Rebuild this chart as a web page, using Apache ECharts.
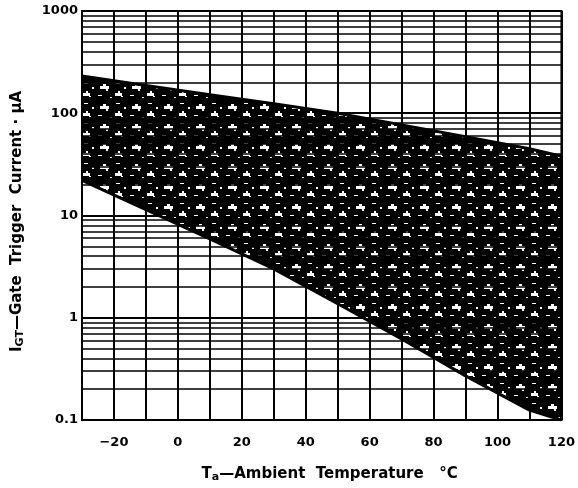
<!DOCTYPE html>
<html><head><meta charset="utf-8">
<script src="https://cdn.jsdelivr.net/npm/echarts@6/dist/echarts.min.js"></script>
<style>html,body{margin:0;padding:0;background:#fff}#c{width:578px;height:488px}</style>
</head><body><div id="c"></div>
<script>
// Data
var temps    = [-30, -10, 10, 30, 50, 70, 90, 110, 120];
var upperIGT = [232, 187, 152, 124, 100, 77, 59, 45, 38];
var lowerIGT = [22, 11.4, 5.9, 3.0, 1.37, 0.62, 0.27, 0.125, 0.1];
var xTickLabels = [-20, 0, 20, 40, 60, 80, 100, 120];
var yTickLabels = [0.1, 1, 10, 100, 1000];
var decades = [0.1, 1, 10, 100];
var minorSteps = [2, 3, 4, 5, 6, 7, 8, 9];

// texture tile for the shaded band (scanned-print speckle look)
function makeTile() {
  var c = document.createElement('canvas');
  c.width = 32; c.height = 20;
  var g = c.getContext('2d');
  g.fillStyle = '#000'; g.fillRect(0, 0, 32, 20);
  g.fillStyle = '#fff';
  g.fillRect(4, 6, 9, 3);
  g.fillRect(7, 4, 3, 2);
  g.fillRect(10, 9, 2, 2);
  g.fillRect(19, 13, 7, 3);
  g.fillRect(22, 11, 2, 2);
  g.fillRect(25, 16, 2, 1);
  g.fillRect(20, 3, 4, 1);
  g.fillRect(2, 15, 4, 1);
  g.fillRect(14, 17, 2, 1);
  g.fillRect(28, 7, 2, 2);
  return c;
}
var tile = makeTile();

var upperData = temps.map(function (t, i) { return [t, upperIGT[i]]; });
var lowerData = temps.map(function (t, i) { return [t, lowerIGT[i]]; });

var minorLines = [];
decades.forEach(function (d) {
  minorSteps.forEach(function (k) { minorLines.push({ yAxis: +(k * d).toPrecision(3) }); });
});

var font = 'DejaVu Sans';
var chart = echarts.init(document.getElementById('c'), null, { renderer: 'canvas' });
chart.setOption({
  animation: false,
  backgroundColor: '#fff',
  grid: { left: 82, right: 16, top: 11, bottom: 61, show: true, borderColor: '#000', borderWidth: 2, backgroundColor: 'transparent' },
  xAxis: {
    type: 'value', min: -30, max: 120, interval: 10,
    axisLine: { show: true, lineStyle: { color: '#000', width: 2 } },
    axisTick: { show: false },
    splitLine: { show: true, lineStyle: { color: '#000', width: 2 } },
    axisLabel: {
      color: '#000', fontFamily: font, fontWeight: 'bold', fontSize: 13, margin: 16,
      formatter: function (v) { return xTickLabels.indexOf(v) >= 0 ? (v < 0 ? '\u2212' + (-v) : String(v)) : ''; }
    },
    name: 'T{sub|a}\u2014Ambient  Temperature   \u00b0C',
    nameLocation: 'middle', nameGap: 45,
    nameTextStyle: {
      color: '#000', fontFamily: font, fontWeight: 'bold', fontSize: 15, padding: [0, 0, 0, 16],
      rich: { sub: { fontFamily: font, fontWeight: 'bold', fontSize: 11, padding: [7, 0, 0, 0], color: '#000' } }
    }
  },
  yAxis: {
    type: 'log', logBase: 10, min: 0.1, max: 1000,
    axisLine: { show: true, lineStyle: { color: '#000', width: 2 } },
    axisTick: { show: false },
    splitLine: { show: true, lineStyle: { color: '#000', width: 2 } },
    minorSplitLine: { show: false },
    axisLabel: {
      color: '#000', fontFamily: font, fontWeight: 'bold', fontSize: 13, margin: 4,
      formatter: function (v) {
        for (var i = 0; i < yTickLabels.length; i++) {
          if (Math.abs(v - yTickLabels[i]) / yTickLabels[i] < 1e-6) return String(yTickLabels[i]);
        }
        return '';
      }
    },
    name: 'I{sub|GT}\u2014Gate  Trigger  Current \u00b7 \u03bcA',
    nameLocation: 'middle', nameRotate: 90, nameGap: 56,
    nameTextStyle: {
      color: '#000', fontFamily: font, fontWeight: 'bold', fontSize: 15, padding: [0, 12, 0, 0],
      rich: { sub: { fontFamily: font, fontWeight: 'bold', fontSize: 11, padding: [7, 0, 0, 0], color: '#000' } }
    }
  },
  series: [
    {
      name: 'gridlines', type: 'line', data: [], symbol: 'none', z: 1, silent: true,
      markLine: {
        silent: true, symbol: ['none', 'none'], label: { show: false },
        lineStyle: { color: '#000', width: 1.5, type: 'solid' },
        data: minorLines
      }
    },
    {
      name: 'band', type: 'custom', z: 3, silent: true,
      data: [[temps[0], upperIGT[0]]],
      clip: true,
      renderItem: function (params, api) {
        var pts = [];
        for (var i = 0; i < temps.length; i++) pts.push(api.coord([temps[i], upperIGT[i]]));
        for (var j = temps.length - 1; j >= 0; j--) pts.push(api.coord([temps[j], lowerIGT[j]]));
        return {
          type: 'polygon',
          shape: { points: pts },
          style: { fill: { image: tile, repeat: 'repeat' }, stroke: null }
        };
      }
    },
    {
      name: 'upper', type: 'line', data: upperData, symbol: 'none', z: 4, silent: true,
      lineStyle: { color: '#000', width: 3 }
    },
    {
      name: 'lower', type: 'line', data: lowerData, symbol: 'none', z: 4, silent: true,
      lineStyle: { color: '#000', width: 3 }
    }
  ]
});
</script></body></html>
